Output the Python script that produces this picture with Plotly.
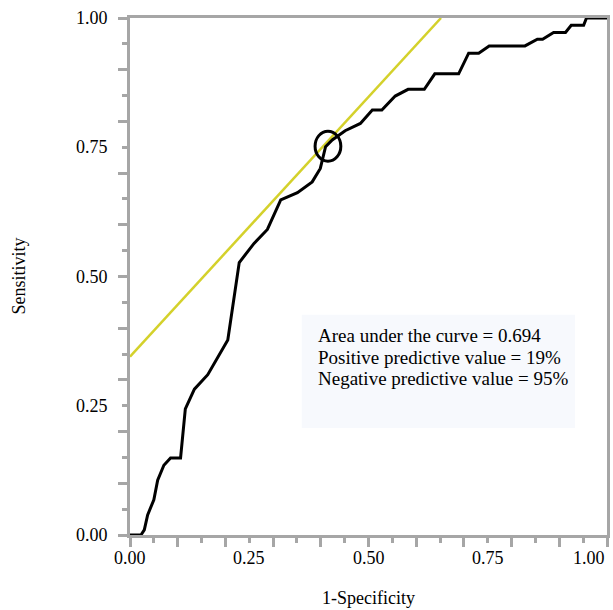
import plotly.graph_objects as go

# ROC curve (1-specificity, sensitivity)
fpr = [0.0, 0.023, 0.03, 0.037, 0.05, 0.058, 0.071, 0.085, 0.106, 0.116, 0.135,
       0.163, 0.205, 0.229, 0.26, 0.288, 0.316, 0.351, 0.382, 0.399, 0.41,
       0.424, 0.451, 0.483, 0.508, 0.528, 0.556, 0.583, 0.617, 0.639, 0.689,
       0.71, 0.731, 0.753, 0.828, 0.854, 0.865, 0.888, 0.913, 0.925, 0.951,
       0.957, 1.0]
tpr = [0.0, 0.0, 0.01, 0.039, 0.068, 0.106, 0.135, 0.149, 0.149, 0.244, 0.282,
       0.31, 0.377, 0.527, 0.564, 0.591, 0.648, 0.662, 0.683, 0.709, 0.751,
       0.764, 0.782, 0.796, 0.822, 0.822, 0.849, 0.862, 0.862, 0.892, 0.892,
       0.932, 0.932, 0.946, 0.946, 0.959, 0.959, 0.972, 0.972, 0.986, 0.986,
       1.0, 1.0]

# tangent line
tan_x = [0.0, 0.652]
tan_y = [0.345, 1.0]

# marked cut-off point
cut_x = 0.415
cut_y = 0.752

tick_vals = [0, 0.25, 0.5, 0.75, 1.0]
tick_text = ['0.00', '0.25', '0.50', '0.75', '1.00']

notes = ['Area under the curve = 0.694',
         'Positive predictive value = 19%',
         'Negative predictive value = 95%']
note_y = [0.385, 0.344, 0.303]

gray = '#a6a6a6'
font = 'Liberation Serif, Times New Roman, serif'

fig = go.Figure()
fig.add_trace(go.Scatter(x=tan_x, y=tan_y, mode='lines',
                         line=dict(color='#d4d12b', width=2.5)))
fig.add_trace(go.Scatter(x=fpr, y=tpr, mode='lines',
                         line=dict(color='black', width=3)))

# note box
fig.add_shape(type='rect', x0=0.36, x1=0.933, y0=0.207, y1=0.426,
              fillcolor='#f7f9fd', line=dict(width=0), layer='below')
for t, y in zip(notes, note_y):
    fig.add_annotation(x=0.39, y=y, xanchor='left', yanchor='middle',
                       text=t, showarrow=False,
                       font=dict(family=font, size=19, color='black'))

# circle round the cut-off
fig.add_shape(type='circle', x0=cut_x - 0.027, x1=cut_x + 0.027,
              y0=cut_y - 0.029, y1=cut_y + 0.029,
              line=dict(color='black', width=3))

for v, t in zip(tick_vals, tick_text):
    # last label sits inside the right edge, like the original
    anchor = 'right' if v == 1.0 else 'center'
    fig.add_annotation(x=v, y=0, xref='x', yref='paper', yanchor='top',
                       xanchor=anchor, yshift=-11, text=t, showarrow=False,
                       font=dict(family=font, size=18, color='black'))
    fig.add_annotation(x=0, y=v, xref='paper', yref='y', xanchor='right',
                       xshift=-20, text=t, showarrow=False,
                       font=dict(family=font, size=18, color='black'))

fig.add_annotation(x=0.5, y=0, xref='paper', yref='paper', yanchor='middle',
                   yshift=-63, text='1-Specificity', showarrow=False,
                   font=dict(family=font, size=18, color='black'))
fig.add_annotation(x=0, y=0.5, xref='paper', yref='paper', xanchor='center',
                   xshift=-112, text='Sensitivity', showarrow=False,
                   textangle=-90,
                   font=dict(family=font, size=18, color='black'))

axis = dict(range=[0, 1], tickmode='linear', tick0=0, dtick=0.1,
            ticks='outside', ticklen=9, tickwidth=3, tickcolor=gray,
            showticklabels=False, showgrid=False, zeroline=False,
            showline=True, linecolor=gray, linewidth=3, mirror=True,
            layer='below traces',
            minor=dict(dtick=0.05, tick0=0, ticks='outside', ticklen=5,
                       tickwidth=3, tickcolor=gray, showgrid=False))

fig.update_layout(
    width=613, height=610,
    margin=dict(l=130, r=3, t=18, b=75),
    paper_bgcolor='white', plot_bgcolor='white',
    showlegend=False,
    xaxis=axis, yaxis=axis,
    font=dict(family=font, size=18, color='black'),
)

# page has a default 8px body margin; drop it so the figure sits at 0,0
fig.write_html("out.html", config={'displayModeBar': False},
               post_script="document.body.style.margin='0px';")
